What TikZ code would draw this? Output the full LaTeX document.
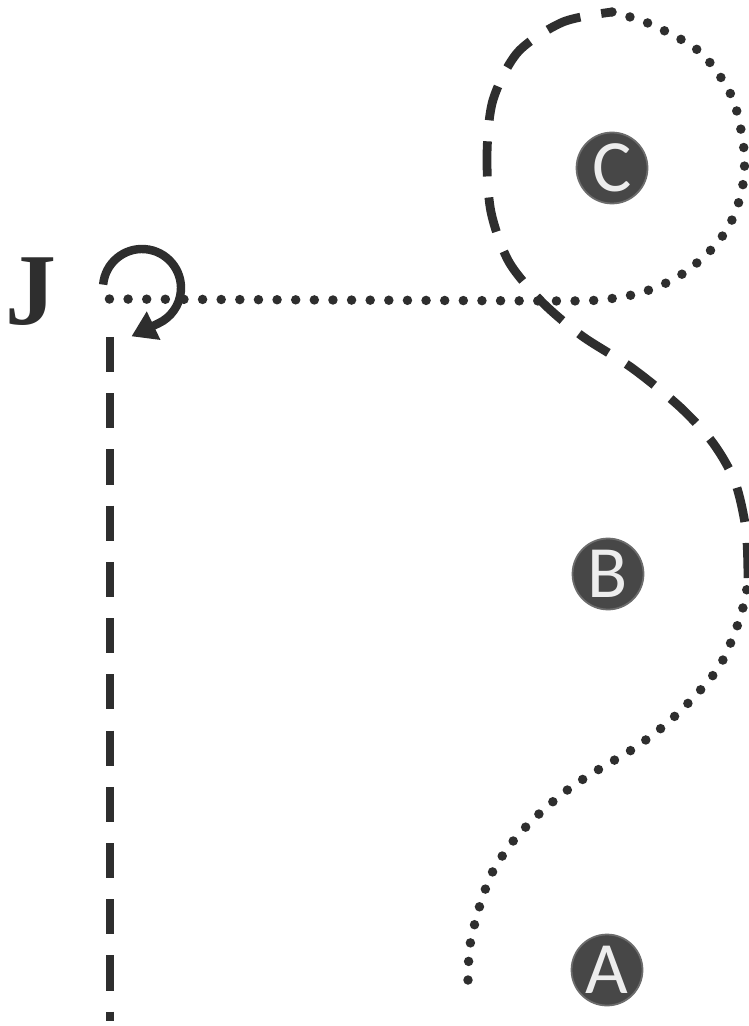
\documentclass[tikz,border=0pt]{standalone}
\usepackage{fontspec}
\setmainfont{Liberation Serif}
\setsansfont{Carlito}
\usetikzlibrary{arrows.meta, positioning}
\definecolor{ink}{HTML}{2E2E2E}
\definecolor{stopfill}{HTML}{474747}
\definecolor{stoptext}{HTML}{EDEDED}

\tikzset{
  stop/.style={circle, fill=stopfill, draw=stopfill!80, line width=1pt, text=stoptext, minimum size=1.42cm, inner sep=0pt, font=\fontsize{42}{42}\selectfont\sffamily},
  walk/.style={draw=ink, line width=5.4pt, line cap=round, dash pattern=on 0pt off 10.6pt},
  drive/.style={draw=ink, line width=5pt, dash pattern=on 20pt off 12pt},
}

\begin{document}
\begin{tikzpicture}[x=0.02cm, y=-0.02cm]
  \useasboundingbox (0,0) rectangle (749,1026);
  \node[stop] (stopC) at (612,168) {C};
  \node[stop] (stopB) at (608,574) {B};
  \node[stop] (stopA) at (607,970) {A};
  \node[font=\fontsize{58}{58}\selectfont\bfseries, text=ink] (J) at (31,292) {J};
  \coordinate (start) at (468,980);
  \coordinate (swap1) at (748,578);
  \coordinate (swap2) at (612,12);
  \coordinate (join) at (560,301);
  \coordinate (turn) at (106,299);
  \coordinate (spin) at (142,288);
  \coordinate (down) at (110,337);
  \coordinate (end) at (110,1021);

  % A up past B
  \draw[walk] plot[smooth] coordinates {(start) (470,945) (480,905) (493,871) (514,840) (540,813) (570,788) (601,768) (633,749) (665,725) (694,697) (719,667) (735,632) (745,600) (swap1)};
  % dashed, up and round the left of C
  \draw[drive] plot[smooth] coordinates {(swap1) (746,530) (735,482) (713,443) (680,407) (632,368) (582,336) (542,302) (509,262) (491,212) (487,155) (493,100) (518,52) (563,22) (swap2)};
  % round the right of C, then back to J
  \draw[walk] plot[smooth] coordinates {(swap2) (650,24) (700,52) (732,97) (744,150) (742,190) (729,226) (707,254) (676,278) (640,293) (600,300) (join)} -- (turn);
  % turn at J
  \draw[draw=ink, line width=4.8pt, -{Triangle[length=14pt, width=17pt]}] ([shift={(175:0.78cm)}]spin) arc[start angle=175, end angle=-65, radius=0.78cm] -- ++(-27,13);
  % down from J
  \draw[drive] (down) -- (end);
\end{tikzpicture}
\end{document}
